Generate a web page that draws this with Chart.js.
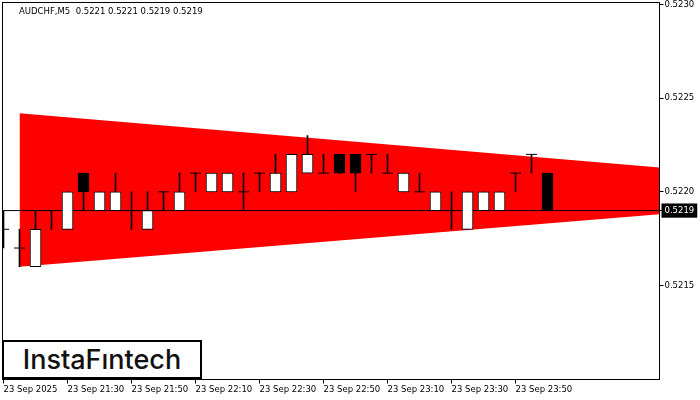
<!DOCTYPE html>
<html>
<head>
<meta charset="utf-8">
<script src="https://cdn.jsdelivr.net/npm/chart.js@4.4.1/dist/chart.umd.min.js"></script>
<style>
    html, body { margin: 0; padding: 0; background: #fff; }
    #wrap { position: relative; width: 700px; height: 400px; }
    #logo {
        position: absolute; left: 2px; top: 340px;
        width: 196px; height: 35px;
        border: 2px solid #000; background: #fff;
        font-family: Inter, "Noto Sans", sans-serif; font-weight: 500;
        font-size: 27px; line-height: 35px; text-align: center; color: #111;
    }
</style>
</head>
<body>
<div id="wrap">
    <canvas id="chart" width="700" height="400"></canvas>
    <div id="logo">InstaFıntech</div>
</div>
<script>
// AUDCHF M5 candles, one per 5 minutes starting 23 Sep 21:10
var opens  = [0.5218, 0.5217, 0.5216, 0.5219, 0.5218, 0.5221, 0.5219, 0.5219, 0.5219, 0.5218,
              0.5220, 0.5219, 0.5221, 0.5220, 0.5220, 0.5220, 0.5221, 0.5220, 0.5220, 0.5221,
              0.5221, 0.5222, 0.5222, 0.5222, 0.5221, 0.5220, 0.5220, 0.5219, 0.5219, 0.5218,
              0.5219, 0.5219, 0.5221, 0.5222, 0.5221];
var highs  = [0.5219, 0.5218, 0.5219, 0.5219, 0.5220, 0.5221, 0.5220, 0.5221, 0.5220, 0.5220,
              0.5220, 0.5221, 0.5221, 0.5221, 0.5221, 0.5221, 0.5221, 0.5222, 0.5222, 0.5223,
              0.5222, 0.5222, 0.5222, 0.5222, 0.5222, 0.5221, 0.5221, 0.5220, 0.5220, 0.5220,
              0.5220, 0.5220, 0.5221, 0.5222, 0.5221];
var lows   = [0.5217, 0.5216, 0.5216, 0.5218, 0.5218, 0.5219, 0.5219, 0.5219, 0.5218, 0.5218,
              0.5219, 0.5219, 0.5220, 0.5220, 0.5220, 0.5219, 0.5220, 0.5220, 0.5220, 0.5221,
              0.5221, 0.5221, 0.5220, 0.5221, 0.5221, 0.5220, 0.5220, 0.5219, 0.5218, 0.5218,
              0.5219, 0.5219, 0.5220, 0.5221, 0.5219];
var closes = [0.5218, 0.5217, 0.5218, 0.5219, 0.5220, 0.5220, 0.5220, 0.5220, 0.5219, 0.5219,
              0.5220, 0.5220, 0.5221, 0.5221, 0.5221, 0.5220, 0.5221, 0.5221, 0.5222, 0.5222,
              0.5221, 0.5221, 0.5221, 0.5222, 0.5221, 0.5221, 0.5220, 0.5220, 0.5219, 0.5220,
              0.5220, 0.5220, 0.5221, 0.5222, 0.5219];

// triangle pattern: [start bar, end bar] and its two borders
var triangleX     = [1, 41];
var triangleUpper = [0.52242, 0.52213];
var triangleLower = [0.52160, 0.52188];

var bid = 0.5219;
var header = 'AUDCHF,M5  0.5221 0.5221 0.5219 0.5219';

var xTickIdx    = [0, 4, 8, 12, 16, 20, 24, 28, 32];
var xTickLabels = ['23 Sep 2025', '23 Sep 21:30', '23 Sep 21:50', '23 Sep 22:10', '23 Sep 22:30',
                   '23 Sep 22:50', '23 Sep 23:10', '23 Sep 23:30', '23 Sep 23:50'];
var yTickValues = [0.5215, 0.5219, 0.5220, 0.5225, 0.5230];

var tickFont = { family: 'DejaVu Sans', size: 8.5 };
var leftClip = { left: 0.5, top: 0, right: 0, bottom: 0 };

var bodies = [], dojis = [], wicks = [];
opens.forEach(function (o, i) {
    wicks.push({ x: i, y: [lows[i], highs[i]] });
    if (o === closes[i]) dojis.push({ x: i, y: o });
    else bodies.push({ x: i, y: [o, closes[i]] });
});

// frame round the plot and the symbol line at the top
var frame = {
    id: 'frame',
    afterDraw: function (chart) {
        var ctx = chart.ctx, a = chart.chartArea;
        ctx.save();
        ctx.strokeStyle = '#000';
        ctx.lineWidth = 1;
        ctx.strokeRect(a.left - 1, a.top, a.right - a.left + 1, a.bottom - a.top);
        ctx.fillStyle = '#000';
        ctx.font = '8.5px "DejaVu Sans"';
        ctx.textBaseline = 'alphabetic';
        ctx.fillText(header, 19, 14);
        ctx.restore();
    }
};

var ctx = document.getElementById('chart').getContext('2d');
var chart = new Chart(ctx, {
    type: 'bar',
    data: {
        datasets: [{
            type: 'bar',
            data: bodies,
            grouped: false,
            barThickness: 11,
            maxBarThickness: 11,
            backgroundColor: function (c) {
                if (!c.raw) return '#fff';
                return c.raw.y[1] > c.raw.y[0] ? '#fff' : '#000';
            },
            borderColor: '#000',
            borderWidth: 1,
            borderSkipped: false,
            clip: leftClip,
            order: 0
        }, {
            type: 'line',
            data: dojis,
            showLine: false,
            pointStyle: 'line',
            pointRadius: 5.5,
            pointBorderColor: '#000',
            pointBorderWidth: 1,
            clip: leftClip,
            order: 1
        }, {
            type: 'bar',
            data: wicks,
            grouped: false,
            barThickness: 1,
            maxBarThickness: 1,
            backgroundColor: '#000',
            borderWidth: 0,
            clip: leftClip,
            order: 2
        }, {
            type: 'line',
            data: [{ x: 0, y: bid }, { x: 41, y: bid }],
            borderColor: '#000',
            borderWidth: 1,
            pointRadius: 0,
            order: 3
        }, {
            type: 'line',
            data: triangleX.map(function (x, i) { return { x: x, y: triangleUpper[i] }; }),
            borderColor: '#ff0000',
            borderWidth: 0,
            pointRadius: 0,
            fill: false,
            order: 10
        }, {
            type: 'line',
            data: triangleX.map(function (x, i) { return { x: x, y: triangleLower[i] }; }),
            borderColor: '#ff0000',
            borderWidth: 0,
            pointRadius: 0,
            fill: '-1',
            backgroundColor: '#ff0000',
            order: 10
        }]
    },
    options: {
        responsive: false,
        animation: false,
        devicePixelRatio: 1,
        events: [],
        layout: { autoPadding: false, padding: { left: 3.5, top: 2.5, right: 0, bottom: 0 } },
        plugins: { legend: { display: false }, tooltip: { enabled: false } },
        scales: {
            x: {
                type: 'linear',
                min: 0,
                max: 41,
                offset: false,
                afterFit: function (s) { s.height = 20.5; s.paddingLeft = 0; s.paddingRight = 0; },
                afterBuildTicks: function (s) { s.ticks = xTickIdx.map(function (v) { return { value: v }; }); },
                grid: { display: true, drawOnChartArea: false, tickLength: 4, color: '#000', offset: false },
                border: { display: false },
                ticks: {
                    align: 'start',
                    maxRotation: 0,
                    autoSkip: false,
                    padding: 1,
                    color: '#000',
                    font: tickFont,
                    callback: function (v, i) { return xTickLabels[i]; }
                }
            },
            y: {
                position: 'right',
                min: 0.520998,
                max: 0.523011,
                afterFit: function (s) { s.width = 40.5; s.paddingTop = 0; s.paddingBottom = 0; },
                afterBuildTicks: function (s) { s.ticks = yTickValues.map(function (v) { return { value: v }; }); },
                grid: { display: true, drawOnChartArea: false, tickLength: 4, color: '#000' },
                border: { display: false },
                ticks: {
                    padding: 1,
                    font: tickFont,
                    color: function (c) { return c.tick && c.tick.value === bid ? '#fff' : '#000'; },
                    showLabelBackdrop: function (c) { return !!(c.tick && c.tick.value === bid); },
                    backdropColor: '#000',
                    backdropPadding: { x: 3, y: 2 },
                    callback: function (v) { return v.toFixed(4); }
                }
            }
        }
    },
    plugins: [frame]
});
</script>
</body>
</html>
